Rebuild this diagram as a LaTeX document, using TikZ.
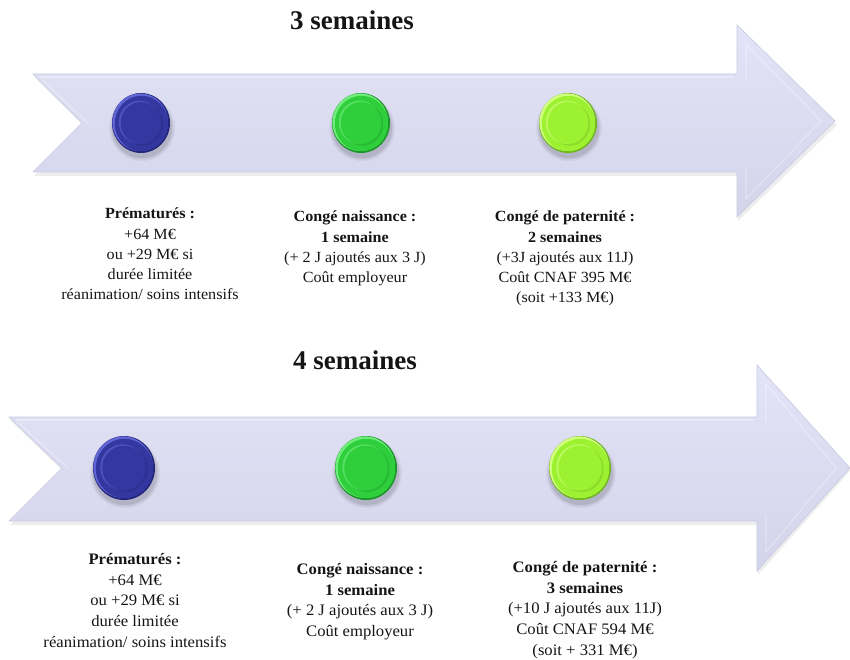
\documentclass[tikz,border=0pt]{standalone}
\usepackage{fontspec}
\setmainfont{Liberation Serif}[FakeStretch=1.04]
\newfontfamily\titlefont{Liberation Serif}
\usetikzlibrary{shapes.geometric}
\definecolor{arrowtop}{HTML}{E4E4F8}
\definecolor{arrowbot}{HTML}{D3D3EA}
\definecolor{arrowedge}{HTML}{C9C9E0}
\definecolor{txt}{HTML}{151515}
\definecolor{bdark}{HTML}{23267A}
\definecolor{bbase}{HTML}{33379F}
\definecolor{blight}{HTML}{6065D4}
\definecolor{gdark}{HTML}{1C9528}
\definecolor{gbase}{HTML}{2FCF3B}
\definecolor{glight}{HTML}{70EC7C}
\definecolor{ldark}{HTML}{70B524}
\definecolor{lbase}{HTML}{9CF230}
\definecolor{llight}{HTML}{D2FF80}
\tikzset{
  arrowshape/.style={top color=arrowtop, bottom color=arrowbot, draw=arrowedge, line width=0.6pt, line join=miter},
  arrowshadow/.style={fill=black, opacity=0.07},
  bevel/.style={draw=white, opacity=0.3, line width=1.2pt},
  lbl/.style={align=center, anchor=north, inner sep=0pt, text=txt, font=\fontsize{15.5}{20.2}\selectfont},
  lblb/.style={lbl, font=\fontsize{16}{20.7}\selectfont},
  titre/.style={inner sep=0pt, text=txt, font=\titlefont\bfseries\fontsize{27}{30}\selectfont},
  disc/.style={ellipse, inner sep=0pt, draw=none}
}
% name, x, y, rx, ry, dark, base, light
\newcommand\pastille[8]{%
  \foreach \k/\o in {5/0.04,3.5/0.06,2/0.08}{\fill[black,opacity=\o] (#2+1,#3+5) ellipse [x radius={#4+\k-1}, y radius={#5+\k-2}];}
  \node[disc, fill=#6, minimum width={2*#4}, minimum height={2*#5}] (#1) at (#2,#3) {};
  \fill[#8] (#2-0.8,#3-0.8) ellipse [x radius={#4-1.2}, y radius={#5-1.2}];
  \fill[#7] (#2+0.5,#3+0.5) ellipse [x radius={#4-2.3}, y radius={#5-2.3}];
  \fill[#6,opacity=0.35] (#2+1.4,#3+1.1) ellipse [x radius={0.72*#4}, y radius={0.72*#5}];
  \fill[#8,opacity=0.6] (#2-1.4,#3-0.7) ellipse [x radius={0.72*#4}, y radius={0.72*#5}];
  \fill[#7] (#2,#3) ellipse [x radius={0.7*#4}, y radius={0.7*#5}];
}
\begin{document}
\begin{tikzpicture}[x=1pt,y=-1pt]
\useasboundingbox (0,0) rectangle (850,660);
% ---------- arrow 1 ----------
\fill[arrowshadow] (34,77) -- (738,77) -- (738,29) -- (837,125) -- (738,221) -- (738,176) -- (34,176) -- (83,125) -- cycle;
\path[arrowshape] (33,74) -- (737,74) -- (737,25) -- (835,121) -- (737,217) -- (737,172) -- (33,172) -- (82,123) -- cycle;
\draw[bevel] (40,77) -- (734,77);
\draw[bevel] (41,79) -- (88,123);
\draw[bevel] (746,44) -- (821,121) -- (746,199);
\draw[bevel, opacity=0.2] (746,44) -- (746,80);
\draw[bevel, opacity=0.2] (746,166) -- (746,199);
\node[titre] (h1) at (352,20) {3 semaines};
\pastille{p11}{141}{123}{29}{30}{bdark}{bbase}{blight}
\pastille{p12}{361}{123}{29}{30}{gdark}{gbase}{glight}
\pastille{p13}{568}{123}{29}{30}{ldark}{lbase}{llight}
\node[lbl] (t11) at (150,208) {\textbf{Prématurés :}\\+64 M€\\ou +29 M€ si\\durée limitée\\réanimation/ soins intensifs};
\node[lbl] (t12) at (355,211) {\textbf{Congé naissance :}\\\textbf{1 semaine}\\(+ 2 J ajoutés aux 3 J)\\Coût employeur};
\node[lbl] (t13) at (565,211) {\textbf{Congé de paternité :}\\\textbf{2 semaines}\\(+3J ajoutés aux 11J)\\Coût CNAF 395 M€\\(soit +133 M€)};
% ---------- arrow 2 ----------
\fill[arrowshadow] (10,420) -- (758,420) -- (758,369) -- (850,471) -- (758,575) -- (758,525) -- (10,525) -- (63,471) -- cycle;
\path[arrowshape] (9,417) -- (757,417) -- (757,365) -- (850,468) -- (757,571) -- (757,521) -- (9,521) -- (62,468) -- cycle;
\draw[bevel] (16,420) -- (754,420);
\draw[bevel] (17,422) -- (68,468);
\draw[bevel] (766,384) -- (836,468) -- (766,552);
\draw[bevel, opacity=0.2] (766,384) -- (766,423);
\draw[bevel, opacity=0.2] (766,515) -- (766,552);
\node[titre] (h2) at (355,360) {4 semaines};
\pastille{p21}{124}{468}{31}{32}{bdark}{bbase}{blight}
\pastille{p22}{366}{468}{31}{32}{gdark}{gbase}{glight}
\pastille{p23}{580}{468}{31}{32}{ldark}{lbase}{llight}
\node[lblb] (t21) at (135,553) {\textbf{Prématurés :}\\+64 M€\\ou +29 M€ si\\durée limitée\\réanimation/ soins intensifs};
\node[lblb] (t22) at (360,563) {\textbf{Congé naissance :}\\\textbf{1 semaine}\\(+ 2 J ajoutés aux 3 J)\\Coût employeur};
\node[lblb] (t23) at (585,561) {\textbf{Congé de paternité :}\\\textbf{3 semaines}\\(+10 J ajoutés aux 11J)\\Coût CNAF 594 M€\\(soit + 331 M€)};
\end{tikzpicture}
\end{document}
